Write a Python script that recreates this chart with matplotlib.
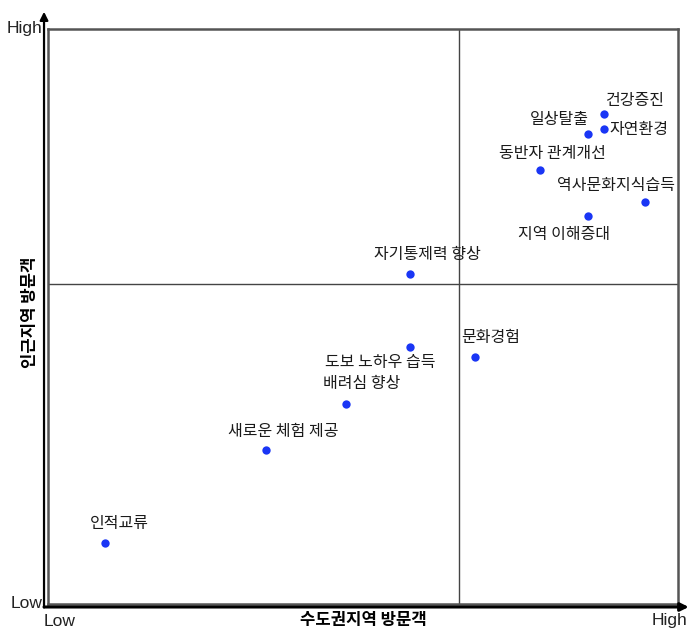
import matplotlib.pyplot as plt

plt.rcParams['font.family'] = ['Noto Sans CJK KR', 'DejaVu Sans']

# importance scores (0-100)
labels = ['건강증진', '자연환경', '일상탈출', '동반자 관계개선', '역사문화지식습득',
          '지역 이해증대', '자기통제력 향상', '도보 노하우 습득', '문화경험',
          '배려심 향상', '새로운 체험 제공', '인적교류']
metro = [88.3, 88.3, 85.7, 78.1, 94.8, 85.7, 57.5, 57.5, 67.8, 47.3, 34.6, 9.0]
nearby = [85.2, 82.6, 81.7, 75.5, 70.0, 67.5, 57.4, 44.7, 43.0, 34.8, 26.8, 10.6]

# label offsets in pixels (dx, dy)
offsets = [(30, 14), (35, 0), (-29, 15), (12, 16), (-29, 16), (-24, -19),
           (17, 19), (-30, -16), (16, 19), (16, 20), (17, 18), (15, 20)]

fig = plt.figure(figsize=(6.91, 6.32), dpi=100)
ax = fig.add_axes([48 / 691, 1 - 604 / 632, 630 / 691, 575 / 632])
ax.set_xlim(0, 100)
ax.set_ylim(0, 100)
ax.set_xticks([])
ax.set_yticks([])
for s in ax.spines.values():
    s.set_color('#555555')
    s.set_linewidth(1.8)

# quadrant dividers
ax.axvline(65.2, color='#444444', lw=1.0)
ax.axhline(55.6, color='#444444', lw=1.0)

ax.scatter(metro, nearby, s=36, color='#1a36f5', zorder=3, linewidths=0)

for lab, x, y, (dx, dy) in zip(labels, metro, nearby, offsets):
    ax.annotate(lab, (x, y), xytext=(dx, dy), textcoords='offset pixels',
                ha='center', va='center', fontsize=11.5, color='#1a1a1a')

# outer arrow axes
ax.annotate('', xy=(-0.0063, 1.03), xytext=(-0.0063, -0.006),
            xycoords='axes fraction',
            arrowprops=dict(arrowstyle='-|>', color='black', lw=1.6,
                            mutation_scale=12, shrinkA=0, shrinkB=0),
            annotation_clip=False)
ax.annotate('', xy=(1.017, -0.0052), xytext=(-0.0063, -0.0052),
            xycoords='axes fraction',
            arrowprops=dict(arrowstyle='-|>', color='black', lw=2.2,
                            mutation_scale=12, shrinkA=0, shrinkB=0),
            annotation_clip=False)

lat = ['Liberation Sans', 'DejaVu Sans']
fig.text(42 / 691, 1 - 28 / 632, 'High', ha='right', va='center', fontsize=12.5, family=lat, color='#222222')
fig.text(42 / 691, 1 - 603 / 632, 'Low', ha='right', va='center', fontsize=12.5, family=lat, color='#222222')
fig.text(44 / 691, 1 - 621 / 632, 'Low', ha='left', va='center', fontsize=12.5, family=lat, color='#222222')
fig.text(687 / 691, 1 - 621 / 632, 'High', ha='right', va='center', fontsize=12.5, family=lat, color='#222222')

fig.text(363 / 691, 1 - 620 / 632, '수도권지역 방문객', ha='center', va='center',
         fontsize=12, fontweight='bold')
fig.text(30 / 691, 1 - 312 / 632, '인근지역 방문객', ha='center', va='center',
         rotation=90, fontsize=12, fontweight='bold')

fig.savefig('out.png', dpi=100)
